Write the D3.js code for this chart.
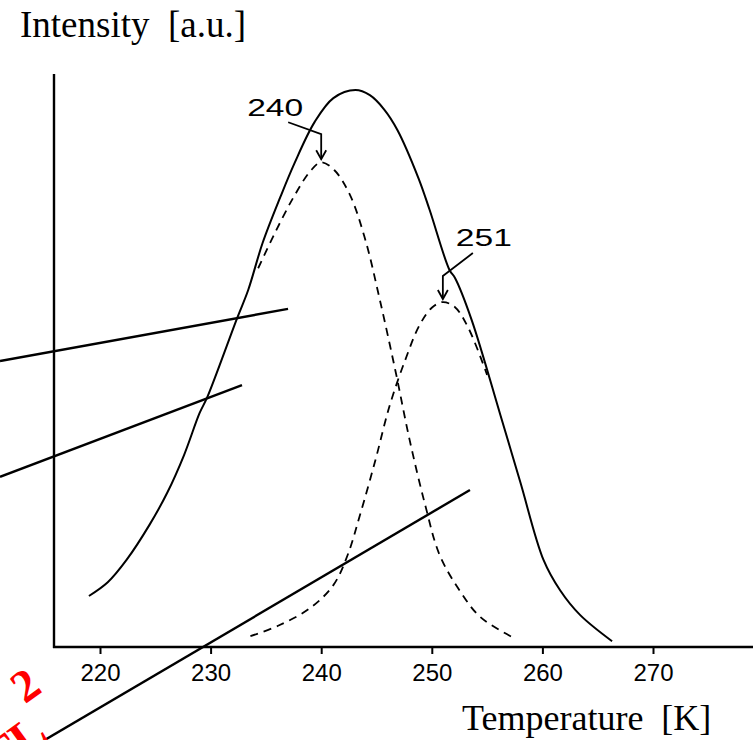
<!DOCTYPE html>
<html>
<head>
<meta charset="utf-8">
<script src="https://cdn.jsdelivr.net/npm/d3@7"></script>
<style>
  html, body { margin: 0; padding: 0; background: #fff; }
  svg { display: block; }
</style>
</head>
<body>
<svg id="chart" width="753" height="740"></svg>
<script>
// Measured glow curve (temperature in K, intensity in arbitrary units)
const measuredT = [219.0, 220.7, 222.4, 224.5, 226.1, 227.6, 229.0, 229.7, 232.4, 233.4, 234.7, 236.3, 237.6, 239.4, 241.1, 243.1, 244.4, 245.7, 246.9, 248.8, 249.8, 251.6, 252.1, 253.6, 256.2, 258.0, 260.1, 261.6, 263.4, 266.3];
const measuredI = [8.9, 11.3, 15.2, 21.4, 27.0, 33.5, 40.8, 43.6, 57.4, 62.3, 70.5, 78.5, 84.5, 91.6, 95.8, 97.2, 96.3, 93.8, 90.2, 81.8, 76.3, 65.8, 64.4, 57.1, 40.5, 28.8, 15.2, 9.9, 5.6, 1.0];

// Deconvoluted component peaking at 240 K
const peak1T = [234.3, 235.8, 237.5, 239.0, 240.0, 241.2, 242.6, 244.0, 245.3, 246.7, 248.0, 249.4, 250.7, 252.5, 254.4, 257.3];
const peak1I = [66.1, 72.2, 78.5, 83.0, 84.6, 83.2, 78.9, 71.0, 60.6, 48.3, 36.1, 24.8, 16.1, 9.9, 5.2, 1.7];

// Deconvoluted component peaking at 251 K
const peak2T = [233.6, 236.1, 239.0, 241.1, 242.4, 243.5, 244.9, 246.2, 247.6, 248.9, 250.0, 251.0, 252.1, 253.3, 255.0];
const peak2I = [1.9, 3.7, 6.8, 10.8, 16.1, 23.0, 32.6, 42.2, 50.1, 56.2, 59.2, 60.2, 59.3, 55.7, 47.5];

// Peak labels
const peakLabels = ["240", "251"];
const peakTemps = [240, 251];
const peakHeights = [84.6, 60.2];

// Straight guide segments: [T0, I0, T1, I1]
const guideA = [210.96, 49.9, 237.0, 59.0];
const guideB = [210.96, 29.7, 232.84, 45.7];
const guideC = [215.03, -16.2, 253.45, 27.4];

// Axis ticks
const xTicks = [220, 230, 240, 250, 260, 270];

const svg = d3.select("#chart");
const W = 753, H = 740;
const axisLeft = 54, axisBottom = 647, axisTop = 74;

const x = d3.scaleLinear().domain([220, 270]).range([100, 653]);
const y = d3.scaleLinear().domain([0, 100]).range([axisBottom, axisTop]);

const zip = (a, b) => a.map((v, i) => [v, b[i]]);
const line = d3.line()
  .x(d => x(d[0]))
  .y(d => y(d[1]))
  .curve(d3.curveCatmullRom.alpha(0.5));

// Guide segments
[guideA, guideB, guideC].forEach(g => {
  svg.append("line")
    .attr("x1", x(g[0])).attr("y1", y(g[1]))
    .attr("x2", x(g[2])).attr("y2", y(g[3]))
    .attr("stroke", "#000").attr("stroke-width", 2.4);
});

// X axis
const xAxis = d3.axisBottom(x).tickValues(xTicks).tickSize(7).tickSizeOuter(0).tickFormat(d3.format("d"));
const gx = svg.append("g").attr("transform", `translate(0,${axisBottom})`).call(xAxis);
gx.select(".domain").remove();
gx.append("line").attr("x1", axisLeft - 1).attr("x2", W).attr("y1", 0).attr("y2", 0)
  .attr("stroke", "#000").attr("stroke-width", 2.4);
gx.selectAll(".tick line").attr("stroke", "#000").attr("stroke-width", 2);
gx.selectAll(".tick text")
  .attr("y", 34).attr("dy", 0)
  .attr("font-family", "Liberation Sans, Arial, sans-serif")
  .attr("font-size", 24).attr("fill", "#000");

// Y axis
svg.append("line")
  .attr("x1", axisLeft).attr("x2", axisLeft)
  .attr("y1", axisTop).attr("y2", axisBottom + 1)
  .attr("stroke", "#000").attr("stroke-width", 2.4);

// Curves
svg.append("path").attr("d", line(zip(measuredT, measuredI)))
  .attr("fill", "none").attr("stroke", "#000").attr("stroke-width", 2);
svg.append("path").attr("d", line(zip(peak1T, peak1I)))
  .attr("fill", "none").attr("stroke", "#000").attr("stroke-width", 1.8)
  .attr("stroke-dasharray", "8,6");
svg.append("path").attr("d", line(zip(peak2T, peak2I)))
  .attr("fill", "none").attr("stroke", "#000").attr("stroke-width", 1.8)
  .attr("stroke-dasharray", "8,6");

// Peak annotations: leader line, arrowhead, label
const leaders = [
  { path: [[-33, -37], [0, -25], [0, 0]], text: [-74, -43] },
  { path: [[30, -46], [0, -23], [0, 0]], text: [13, -53] }
];
peakLabels.forEach((lab, i) => {
  const tx = x(peakTemps[i]);
  const ty = y(peakHeights[i]) - 3;
  const L = leaders[i];
  const g = svg.append("g").attr("transform", `translate(${tx},${ty})`);
  g.append("path")
    .attr("d", d3.line()(L.path))
    .attr("fill", "none").attr("stroke", "#000").attr("stroke-width", 1.8);
  g.append("path")
    .attr("d", "M-5,-9L0,0L5,-9")
    .attr("fill", "none").attr("stroke", "#000").attr("stroke-width", 1.8);
  g.append("text")
    .attr("x", L.text[0]).attr("y", L.text[1])
    .attr("font-family", "Liberation Sans, Arial, sans-serif")
    .attr("font-size", 24)
    .attr("textLength", 56).attr("lengthAdjust", "spacingAndGlyphs")
    .attr("fill", "#000")
    .text(lab);
});

// Axis titles
svg.append("text")
  .attr("x", 20).attr("y", 37)
  .attr("font-family", "Liberation Serif, Times New Roman, serif")
  .attr("font-size", 37).attr("fill", "#000")
  .text("Intensity\u00a0\u00a0[a.u.]");
svg.append("text")
  .attr("x", 462).attr("y", 730)
  .attr("font-family", "Liberation Serif, Times New Roman, serif")
  .attr("font-size", 36).attr("fill", "#000")
  .text("Temperature\u00a0\u00a0[K]");

// Red corner mark
const mark = svg.append("g").attr("transform", "translate(-2,776) rotate(-36)");
mark.append("text")
  .attr("x", 0).attr("y", 0)
  .attr("font-family", "Liberation Serif, Times New Roman, serif")
  .attr("font-weight", "bold").attr("font-size", 48).attr("fill", "#ff0000")
  .text("TL");
mark.append("text")
  .attr("x", 64).attr("y", -42)
  .attr("font-family", "Liberation Serif, Times New Roman, serif")
  .attr("font-weight", "bold").attr("font-size", 46).attr("fill", "#ff0000")
  .text("2");
</script>
</body>
</html>
